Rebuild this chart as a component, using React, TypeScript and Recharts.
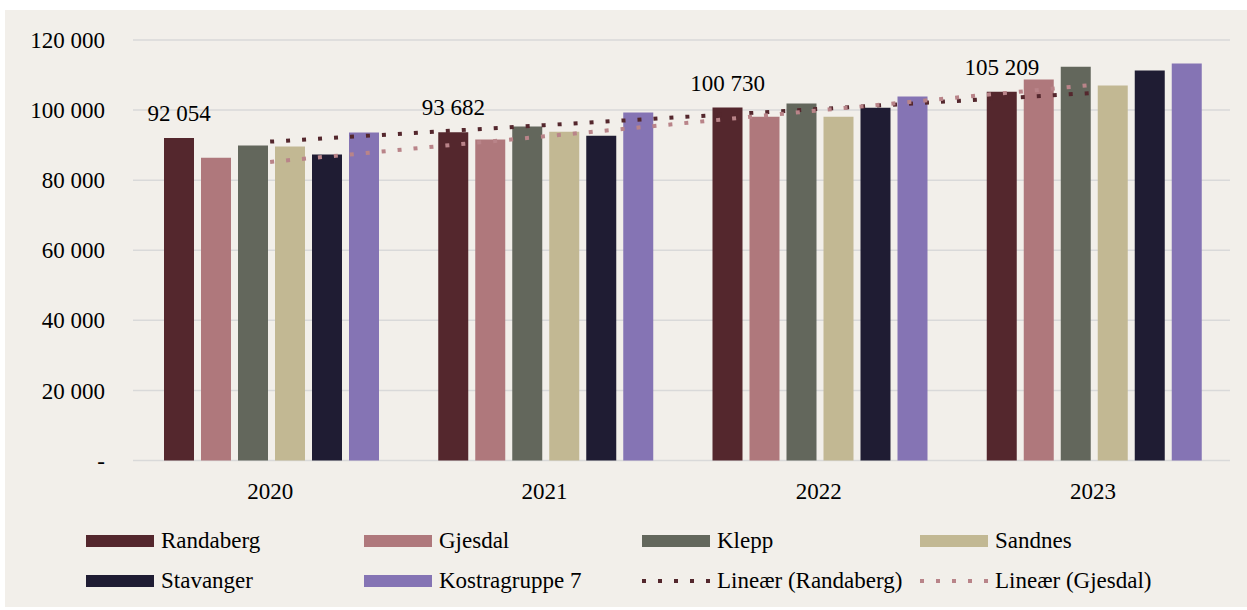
import { ComposedChart, Bar, Line, XAxis, YAxis, CartesianGrid, LabelList } from 'recharts';

const years = ['2020', '2021', '2022', '2023'];
const randaberg = [92054, 93682, 100730, 105209];
const gjesdal = [86400, 91600, 98100, 108700];
const klepp = [89900, 95300, 101900, 112400];
const sandnes = [89600, 93800, 98100, 107000];
const stavanger = [87300, 92700, 100700, 111300];
const kostragruppe7 = [93600, 99300, 103900, 113300];
// linear trend lines
const trendRandaberg = [91000, 95700, 100300, 104900];
const trendGjesdal = [85200, 92500, 99900, 107200];
const yTicks = [0, 20000, 40000, 60000, 80000, 100000, 120000];

const FONT = "'Liberation Serif', 'DejaVu Serif', serif";

const series = [
    { key: 'Randaberg', color: '#54272D' },
    { key: 'Gjesdal', color: '#AF787C' },
    { key: 'Klepp', color: '#63675C' },
    { key: 'Sandnes', color: '#C2B893' },
    { key: 'Stavanger', color: '#1F1C33' },
    { key: 'Kostragruppe 7', color: '#8574B4' },
];

const trends = [
    { key: 'Lineær (Randaberg)', color: '#54272D' },
    { key: 'Lineær (Gjesdal)', color: '#B98489' },
];

const data = years.map((year, i) => ({
    year,
    Randaberg: randaberg[i],
    Gjesdal: gjesdal[i],
    Klepp: klepp[i],
    Sandnes: sandnes[i],
    Stavanger: stavanger[i],
    'Kostragruppe 7': kostragruppe7[i],
    'Lineær (Randaberg)': trendRandaberg[i],
    'Lineær (Gjesdal)': trendGjesdal[i],
}));

const fmt = (v: number) => (v === 0 ? '-' : String(v).replace(/\B(?=(\d{3})+(?!\d))/g, ' '));

const legendItems = [
    ...series.map((s) => ({ ...s, dotted: false })),
    ...trends.map((t) => ({ ...t, dotted: true })),
];

// value label above the Randaberg bars, kept on one line
const renderValue = (props: any) => {
    const { x, y, width, value } = props;
    return (
        <text
            x={Number(x) + Number(width) / 2}
            y={Number(y) - 17}
            textAnchor="middle"
            fill="#000"
            fontSize={23}
            fontFamily={FONT}
        >
            {fmt(Number(value))}
        </text>
    );
};

export default function App() {
    return (
        <div style={{ position: 'absolute', left: 0, top: 0, width: 1247, height: 610, background: '#fff', fontFamily: FONT }}>
            <div style={{ position: 'absolute', left: 5, top: 10, width: 1242, height: 597, background: '#F2EFEA' }} />
            <div style={{ position: 'absolute', left: 0, top: 0 }}>
                <ComposedChart
                    width={1247}
                    height={610}
                    data={data}
                    margin={{ top: 40, right: 17, left: 0, bottom: 119.5 }}
                    barCategoryGap={31}
                    barGap={7}
                    style={{ fontFamily: FONT }}
                >
                    <CartesianGrid vertical={false} stroke="#D9D9D9" strokeWidth={1.5} />
                    <XAxis
                        dataKey="year"
                        height={30}
                        axisLine={false}
                        tickLine={false}
                        tickSize={0}
                        tickMargin={22}
                        tick={{ fill: '#000', fontSize: 23, fontFamily: FONT }}
                    />
                    <YAxis
                        width={133}
                        domain={[0, 120000]}
                        ticks={yTicks}
                        tickFormatter={fmt}
                        axisLine={false}
                        tickLine={false}
                        tickSize={0}
                        tickMargin={28}
                        tick={{ fill: '#000', fontSize: 23, fontFamily: FONT }}
                    />
                    {series.map((s) => (
                        <Bar key={s.key} dataKey={s.key} fill={s.color} isAnimationActive={false}>
                            {s.key === 'Randaberg' && <LabelList dataKey={s.key} content={renderValue} />}
                        </Bar>
                    ))}
                    {trends.map((t) => (
                        <Line
                            key={t.key}
                            type="linear"
                            dataKey={t.key}
                            stroke={t.color}
                            strokeWidth={4}
                            strokeDasharray="4 12"
                            dot={false}
                            activeDot={false}
                            isAnimationActive={false}
                        />
                    ))}
                </ComposedChart>
            </div>
            {legendItems.map((item, i) => {
                const col = i % 4;
                const row = Math.floor(i / 4);
                return (
                    <div
                        key={item.key}
                        style={{
                            position: 'absolute',
                            left: 86 + col * 278,
                            top: 541 + row * 40 - 14,
                            height: 28,
                            display: 'flex',
                            alignItems: 'center',
                            fontSize: 23,
                            color: '#000',
                            whiteSpace: 'nowrap',
                        }}
                    >
                        <svg width={68} height={12} style={{ marginRight: 7 }}>
                            {item.dotted ? (
                                <line x1={0} y1={6} x2={68} y2={6} stroke={item.color} strokeWidth={4} strokeDasharray="4 12" />
                            ) : (
                                <rect x={0} y={0} width={68} height={12} fill={item.color} />
                            )}
                        </svg>
                        <span>{item.key}</span>
                    </div>
                );
            })}
        </div>
    );
}
